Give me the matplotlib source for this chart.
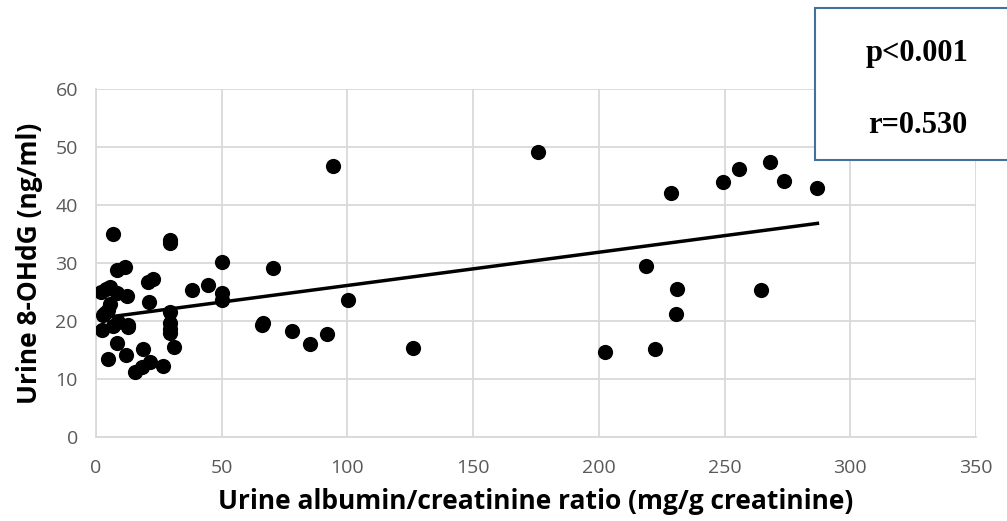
import numpy as np
import matplotlib
matplotlib.use("Agg")
import matplotlib.pyplot as plt
from matplotlib.patches import Rectangle

# urine albumin/creatinine ratio (mg/g creatinine)
acr = [6.6, 29.4, 29.4, 11.5, 8.2, 50, 70.3, 22.8, 20.8, 3.9, 2.0, 5.5,
       12.2, 8.2, 38, 44.6, 50, 50, 21.2, 5.6, 4.9, 3.6, 2.9, 29.4,
       8.9, 29.4, 29.4, 12.8, 12.8, 6.9, 2.3, 29.4, 8.2, 31.2, 18.8, 4.9,
       11.9, 21.5, 18.2, 15.5, 26.8,
       94.1, 175.7, 100.1, 66.6, 65.9, 78.1, 85.1, 91.8, 126.2,
       228.6, 249.3, 255.6, 268.2, 273.5, 286.9, 218.6, 231.2, 230.8,
       264.5, 202.5, 222.5]
# urine 8-OHdG (ng/ml)
ohdg = [35.1, 34.0, 33.5, 29.4, 28.8, 30.2, 29.2, 27.2, 26.8, 25.6, 25.1, 25.8,
        24.3, 24.8, 25.3, 26.2, 24.8, 23.6, 23.3, 23.0, 22.0, 21.4, 21.0, 21.5,
        19.8, 19.7, 18.6, 19.0, 19.4, 19.2, 18.4, 18.0, 16.2, 15.6, 15.2, 13.5,
        14.1, 13.0, 12.1, 11.2, 12.3,
        46.8, 49.2, 23.7, 19.7, 19.3, 18.3, 16.1, 17.7, 15.3,
        42.0, 43.9, 46.2, 47.4, 44.1, 43.0, 29.5, 25.6, 21.2,
        25.3, 14.7, 15.2]

stats_text = ["p<0.001", "r=0.530"]

x = np.array(acr)
y = np.array(ohdg)
slope, intercept = np.polyfit(x, y, 1)
xs = np.array([x.min(), x.max()])

fig = plt.figure(figsize=(10.07, 5.21), dpi=100)
ax = fig.add_axes([0.0953, 0.161, 0.874, 0.668])

ax.scatter(x, y, s=120, color="black", zorder=3, linewidths=0)
ax.plot(xs, intercept + slope * xs, color="black", lw=2.5, zorder=4)

ax.set_xlim(0, 350)
ax.set_ylim(0, 60)
ax.set_xticks(range(0, 351, 50))
ax.set_yticks(range(0, 61, 10))
ax.grid(True, color="#D9D9D9", lw=1.3, zorder=0)
ax.set_axisbelow(True)
for side in ["top", "right"]:
    ax.spines[side].set_visible(False)
for side in ["left", "bottom"]:
    ax.spines[side].set_color("#D9D9D9")
    ax.spines[side].set_linewidth(1.3)
ax.tick_params(length=0, labelsize=14, labelcolor="#595959")
ax.tick_params(axis="x", pad=16)
ax.tick_params(axis="y", pad=13)
for lab in ax.get_xticklabels() + ax.get_yticklabels():
    lab.set_family("Open Sans")

ax.set_xlabel("Urine albumin/creatinine ratio (mg/g creatinine)",
              fontsize=19, fontweight="bold", family="Open Sans", labelpad=8)
ax.set_ylabel("Urine 8-OHdG (ng/ml)",
              fontsize=19, fontweight="bold", family="Open Sans", labelpad=9)

box = Rectangle((0.809, 0.693), 0.25, 0.292, transform=fig.transFigure,
                facecolor="white", edgecolor="#41719C", lw=1.5, zorder=10)
fig.patches.append(box)
fig.text(0.911, 0.898, stats_text[0], ha="center", va="center", fontsize=22,
         fontweight="bold", family="Liberation Serif", zorder=11)
fig.text(0.911, 0.760, stats_text[1], ha="center", va="center", fontsize=22,
         fontweight="bold", family="Liberation Serif", zorder=11)

fig.savefig("out.png", dpi=100)
